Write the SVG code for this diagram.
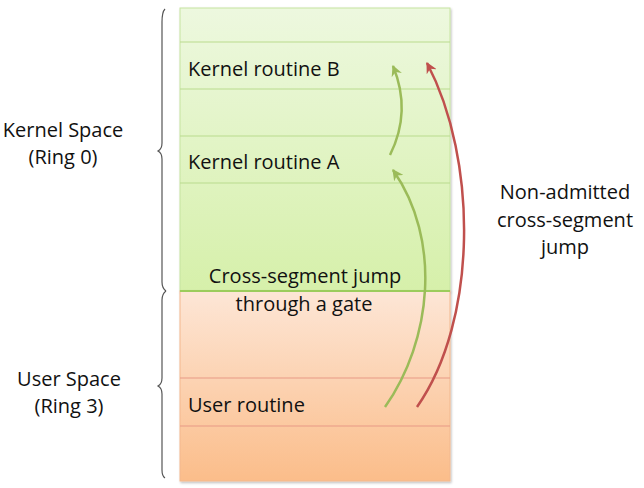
<svg xmlns="http://www.w3.org/2000/svg" width="644" height="488" viewBox="0 0 644 488">
<defs>
<linearGradient id="gGreen" x1="0" y1="0" x2="0" y2="1">
<stop offset="0" stop-color="#edf8df"/>
<stop offset="1" stop-color="#d6f0aa"/>
</linearGradient>
<linearGradient id="gOrange" x1="0" y1="0" x2="0" y2="1">
<stop offset="0" stop-color="#fde6d6"/>
<stop offset="1" stop-color="#fbbd8a"/>
</linearGradient>
<marker id="ahGreen" viewBox="0 0 10 10" refX="9" refY="5" markerWidth="4.4" markerHeight="4.4" orient="auto" markerUnits="strokeWidth">
<path d="M0,0 L10,5 L0,10 L3,5 Z" fill="#9bbb59"/>
</marker>
<marker id="ahRed" viewBox="0 0 10 10" refX="9" refY="5" markerWidth="4.4" markerHeight="4.4" orient="auto" markerUnits="strokeWidth">
<path d="M0,0 L10,5 L0,10 L3,5 Z" fill="#c0504d"/>
</marker>
<filter id="sh" x="-5%" y="-5%" width="110%" height="110%">
<feDropShadow dx="1" dy="1.5" stdDeviation="1.2" flood-color="#000" flood-opacity="0.25"/>
</filter>
</defs>
<style>
text{font-family:"Open Sans","Noto Sans",sans-serif;font-size:20px;fill:#111}
.gl{stroke:#b9db8e;stroke-width:1.2;fill:none}
.ol{stroke:#e89a86;stroke-width:1.2;fill:none}
.brace{stroke:#555;stroke-width:1.2;fill:none}
.jg{stroke:#9bbb59;stroke-width:2.5;fill:none;marker-end:url(#ahGreen)}
.jr{stroke:#c0504d;stroke-width:2.5;fill:none;marker-end:url(#ahRed)}
</style>

<g id="kernel-space" filter="url(#sh)">
<rect x="180" y="8" width="270" height="283" fill="url(#gGreen)" stroke="#c6e4a0" stroke-width="1"/>
</g>
<g id="user-space" filter="url(#sh)">
<rect x="180" y="291" width="270" height="190" fill="url(#gOrange)" stroke="#f3b88e" stroke-width="1"/>
</g>
<g id="kernel-rows">
<line class="gl" x1="180" y1="42" x2="450" y2="42"/>
<line class="gl" x1="180" y1="89" x2="450" y2="89"/>
<line class="gl" x1="180" y1="136" x2="450" y2="136"/>
<line class="gl" x1="180" y1="183" x2="450" y2="183"/>
</g>
<g id="user-rows">
<line class="ol" x1="180" y1="378" x2="450" y2="378"/>
<line class="ol" x1="180" y1="426" x2="450" y2="426"/>
</g>
<line x1="180" y1="291" x2="450" y2="291" stroke="#9ccc5c" stroke-width="2"/>

<g id="kernel-routine-b"><text x="188" y="76">Kernel routine B</text></g>
<g id="kernel-routine-a"><text x="188" y="169">Kernel routine A</text></g>
<g id="user-routine"><text x="188" y="412">User routine</text></g>

<g id="kernel-brace"><path class="brace" d="M165,9 Q162,12 162,22 L162,143 Q162,149 158,151 Q162,153 162,159 L162,282 Q162,288 166,291"/></g>
<g id="user-brace"><path class="brace" d="M166,291 Q162,294 162,300 L162,378 Q162,384 158,386 Q162,388 162,394 L162,470 Q162,476 165,478"/></g>

<g id="kernel-label">
<text x="63" y="137" text-anchor="middle">Kernel Space</text>
<text x="63" y="164" text-anchor="middle">(Ring 0)</text>
</g>
<g id="user-label">
<text x="69" y="386" text-anchor="middle">User Space</text>
<text x="69" y="413" text-anchor="middle">(Ring 3)</text>
</g>

<g id="connectors">
<path class="jg" d="M385,407 C432,340 442,240 393,170"/>
<path class="jg" d="M390,155 C405,125 405,95 393,66"/>
<path class="jr" d="M417,407 C478,320 478,160 427,63"/>
</g>

<g id="gate-label">
<text x="305" y="283" text-anchor="middle">Cross-segment jump</text>
<text x="304" y="311" text-anchor="middle">through a gate</text>
</g>
<g id="nonadmitted-label">
<text x="565" y="199" text-anchor="middle">Non-admitted</text>
<text x="565" y="227" text-anchor="middle">cross-segment</text>
<text x="565" y="254" text-anchor="middle">jump</text>
</g>
</svg>
